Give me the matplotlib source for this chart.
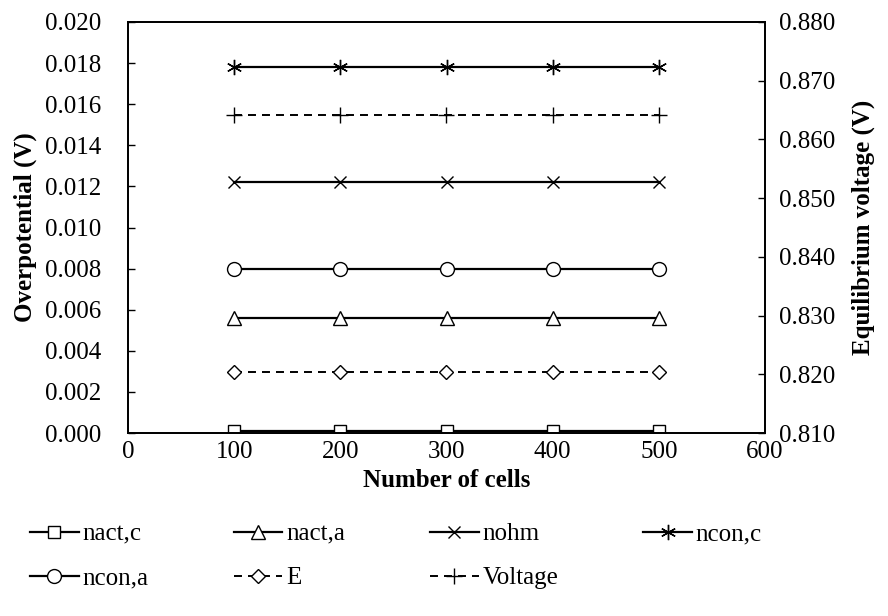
import matplotlib
matplotlib.use("Agg")
import matplotlib.pyplot as plt

plt.rcParams['font.family'] = ['Liberation Serif', 'DejaVu Serif']

cells = [100, 200, 300, 400, 500]
nact_c = [0.0001, 0.0001, 0.0001, 0.0001, 0.0001]
nact_a = [0.0056, 0.0056, 0.0056, 0.0056, 0.0056]
nohm = [0.0122, 0.0122, 0.0122, 0.0122, 0.0122]
ncon_c = [0.0178, 0.0178, 0.0178, 0.0178, 0.0178]
ncon_a = [0.0080, 0.0080, 0.0080, 0.0080, 0.0080]
E = [0.8204, 0.8204, 0.8204, 0.8204, 0.8204]
voltage = [0.8641, 0.8641, 0.8641, 0.8641, 0.8641]

FS = 18

fig = plt.figure(figsize=(8.88, 6.16), dpi=100)
ax = fig.add_axes([128/888, 1-433/616, (765-128)/888, (433-22)/616])
ax2 = ax.twinx()

lw = 1.6
kw = dict(color='black', lw=lw, markerfacecolor='white',
          markeredgecolor='black', markeredgewidth=1.0)
dash = (0, (4.1, 3.1))

h1, = ax.plot(cells, nact_c, marker='s', markersize=8.5, label='nact,c', **kw)
h2, = ax.plot(cells, nact_a, marker='^', markersize=9.5, label='nact,a', **kw)
h3, = ax.plot(cells, nohm, marker='x', markersize=9, label='nohm', **kw)
h4, = ax.plot(cells, ncon_c, marker=(6, 2, 0), markersize=11, label='ncon,c', **kw)
h5, = ax.plot(cells, ncon_a, marker='o', markersize=10, label='ncon,a', **kw)
h6, = ax2.plot(cells, E, marker='D', linestyle=dash, label='E',
               **{**kw, 'markersize': 7.5, 'lw': 1.4})
h7, = ax2.plot(cells, voltage, marker='+', linestyle=dash, label='Voltage',
               **{**kw, 'lw': 1.4, 'markersize': 11})

ax.set_xlim(0, 600)
ax.set_ylim(0, 0.020)
ax2.set_ylim(0.810, 0.880)
ax.set_xticks([0, 100, 200, 300, 400, 500, 600])
ax.set_yticks([i * 0.002 for i in range(11)])
ax.set_yticklabels([f"{i*0.002:.3f}" for i in range(11)])
ax2.set_yticks([0.810 + i * 0.01 for i in range(8)])
ax2.set_yticklabels([f"{0.810 + i*0.01:.3f}" for i in range(8)])

ax.tick_params(axis='y', direction='in', length=5, labelsize=FS, pad=19, width=1)
ax.tick_params(axis='x', direction='in', length=0, labelsize=FS, pad=6)
ax2.tick_params(axis='y', direction='in', length=5, labelsize=FS, pad=10, width=1)

for a in (ax, ax2):
    for s in a.spines.values():
        s.set_linewidth(1.3)
        s.set_color('black')

ax.set_xlabel('Number of cells', fontsize=FS, fontweight='bold')
ax.xaxis.set_label_coords(0.5, -(469-433)/411)
ax.set_ylabel('Overpotential (V)', fontsize=FS, fontweight='bold')
ax.yaxis.set_label_coords((37-128)/637, 0.5)
ax2.set_ylabel('Equilibrium voltage (V)', fontsize=FS, fontweight='bold')
ax2.yaxis.set_label_coords((852-128)/637, 0.5)

# row-wise ordering for a 4-column legend
handles = [h1, h5, h2, h6, h3, h7, h4]
fig.legend(handles, [h.get_label() for h in handles], ncol=4, frameon=False,
           loc='upper left', bbox_to_anchor=(30/888, 1-523/616),
           fontsize=FS, handlelength=1.95, handletextpad=0.15,
           columnspacing=3.4, labelspacing=0.85, borderpad=0, borderaxespad=0)

fig.savefig('out.png', dpi=100)
